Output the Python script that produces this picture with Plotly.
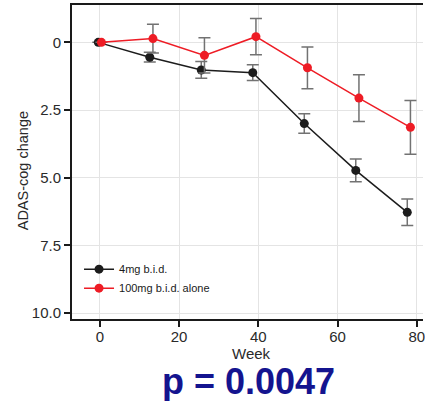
import plotly.graph_objects as go

# Study weeks and mean ADAS-cog change (with standard errors) per arm
weeks = [0, 13, 26, 39, 52, 65, 78]

arm_4mg = "4mg b.i.d."
mean_4mg = [0.0, 0.55, 1.02, 1.12, 3.0, 4.73, 6.28]
se_4mg = [0.0, 0.18, 0.31, 0.29, 0.36, 0.42, 0.49]

arm_100mg = "100mg b.i.d. alone"
mean_100mg = [0.0, -0.14, 0.48, -0.21, 0.94, 2.06, 3.14]
se_100mg = [0.0, 0.53, 0.65, 0.67, 0.77, 0.86, 0.99]

y_ticks = [0, 2.5, 5.0, 7.5, 10.0]
y_tick_text = ["0", "2.5", "5.0", "7.5", "10.0"]
x_ticks = [0, 20, 40, 60, 80]

p_label = "p = 0.0047"

DODGE = 0.4
ERR_COLOR = "#727272"

fig = go.Figure()

for name, means, ses, color, shift in [
    (arm_4mg, mean_4mg, se_4mg, "#1c1c1c", -DODGE),
    (arm_100mg, mean_100mg, se_100mg, "#ee1c25", DODGE),
]:
    fig.add_trace(go.Scatter(
        x=[w + shift for w in weeks],
        y=means,
        name=name,
        mode="lines+markers",
        line=dict(color=color, width=1.5),
        marker=dict(color=color, size=9),
        error_y=dict(type="data", array=ses, visible=True,
                     color=ERR_COLOR, thickness=1.5, width=6),
    ))

fig.update_layout(
    width=425,
    height=401,
    margin=dict(l=72, r=0, t=5, b=82),
    paper_bgcolor="white",
    plot_bgcolor="white",
    font=dict(family="Liberation Sans, Arial, sans-serif", color="#2a2a2a"),
    showlegend=True,
    legend=dict(
        x=0.02, y=0.205, xanchor="left", yanchor="top",
        bgcolor="rgba(0,0,0,0)",
        font=dict(size=11, color="#1a1a1a"),
        itemwidth=30,
        tracegroupgap=0,
    ),
    xaxis=dict(
        range=[-7.03, 81.57],
        tickvals=x_ticks,
        ticks="outside", ticklen=6, tickwidth=1.5, tickcolor="#1a1a1a",
        showline=True, linecolor="#1a1a1a", linewidth=2, mirror=True,
        showgrid=True, gridcolor="#e4e4e4", gridwidth=1,
        zeroline=False,
        ticklabeloverflow="allow",
        ticklabelstandoff=-3,
        tickfont=dict(size=15, color="#2a2a2a"),
    ),
    yaxis=dict(
        range=[10.22, -1.38],
        tickvals=y_ticks,
        ticktext=y_tick_text,
        ticks="outside", ticklen=6, tickwidth=1.5, tickcolor="#1a1a1a",
        showline=True, linecolor="#1a1a1a", linewidth=2,
        showgrid=True, gridcolor="#e4e4e4", gridwidth=1,
        zeroline=False,
        tickfont=dict(size=15, color="#2a2a2a"),
    ),
)

# Axis titles and the p-value caption
fig.add_annotation(
    text="Week", xref="paper", yref="paper",
    x=(253 - 72) / 353, y=-(353 - 319) / 314,
    xanchor="center", yanchor="middle", showarrow=False,
    font=dict(size=15, color="#2a2a2a"),
)
fig.add_annotation(
    text="ADAS-cog change", xref="paper", yref="paper",
    x=-(72 - 23) / 353, y=1 - (171 - 5) / 314,
    xanchor="center", yanchor="middle", textangle=-90, showarrow=False,
    font=dict(size=14.5, color="#2a2a2a"),
)
fig.add_annotation(
    text="<b>" + p_label + "</b>", xref="paper", yref="paper",
    x=(250 - 72) / 353, y=-(381 - 319) / 314,
    xanchor="center", yanchor="middle", showarrow=False,
    font=dict(size=36, color="#14148f"),
)

fig.write_html("out.html")
